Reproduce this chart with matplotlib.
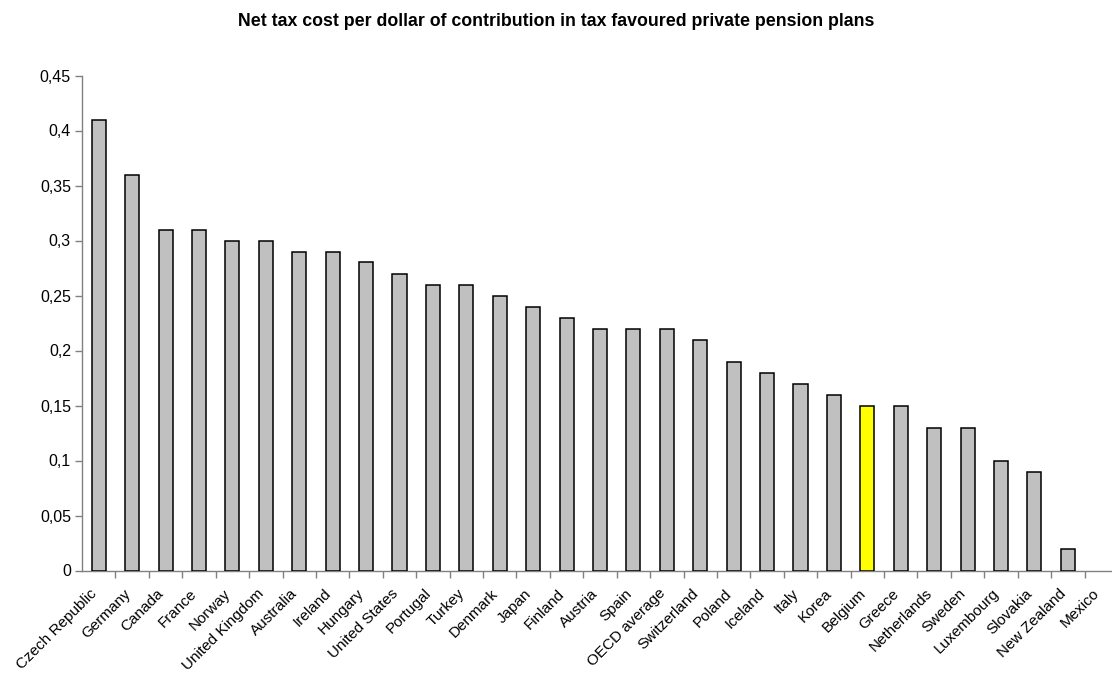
import numpy as np
import matplotlib.pyplot as plt
import matplotlib.transforms as mtransforms
from matplotlib.ticker import FixedLocator, FuncFormatter

countries = ["Czech Republic", "Germany", "Canada", "France", "Norway", "United Kingdom",
             "Australia", "Ireland", "Hungary", "United States", "Portugal", "Turkey",
             "Denmark", "Japan", "Finland", "Austria", "Spain", "OECD average",
             "Switzerland", "Poland", "Iceland", "Italy", "Korea", "Belgium", "Greece",
             "Netherlands", "Sweden", "Luxembourg", "Slovakia", "New Zealand", "Mexico"]
net_cost = [0.41, 0.36, 0.31, 0.31, 0.30, 0.30, 0.29, 0.29, 0.28, 0.27, 0.26, 0.26,
            0.25, 0.24, 0.23, 0.22, 0.22, 0.22, 0.21, 0.19, 0.18, 0.17, 0.16, 0.15,
            0.15, 0.13, 0.13, 0.10, 0.09, 0.02, 0.0]
highlight = "Belgium"
y_ticks = [0, 0.05, 0.1, 0.15, 0.2, 0.25, 0.3, 0.35, 0.4, 0.45]

plt.rcParams['font.family'] = ['Liberation Sans', 'DejaVu Sans']

fig = plt.figure(figsize=(11.12, 6.73), dpi=100)
# axes placed in pixels of the reference
ax = fig.add_axes([82 / 1112, 1 - 570.5 / 673, 1036 / 1112, 495 / 673])

x = np.arange(len(countries))
colors = ["#FFFF00" if c == highlight else "#C0C0C0" for c in countries]
# zero-height bars are not outlined in the original
widths = [1.1 if v > 0 else 0 for v in net_cost]
ax.bar(x, net_cost, width=0.42, color=colors, edgecolor="black", linewidth=widths, zorder=3)

ax.set_xlim(-0.5, len(countries) - 0.5)
ax.set_ylim(0, 0.45)
ax.set_yticks(y_ticks)
ax.yaxis.set_major_formatter(FuncFormatter(lambda v, p: ("%g" % v).replace(".", ",")))

ax.set_xticks(x)
ax.set_xticklabels(countries, rotation=45, ha="right", va="center", rotation_mode="anchor")
ax.xaxis.set_minor_locator(FixedLocator(x[:-1] + 0.5))
ax.tick_params(axis="x", which="major", length=0, pad=15, labelsize=11)
ax.tick_params(axis="x", which="minor", length=5, width=1, color="#808080")
ax.tick_params(axis="y", length=5, width=1, color="#808080", labelsize=11.5, pad=3)

# nudge the slanted labels a little to the left
shift = mtransforms.ScaledTranslation(-4 / 100, 0, fig.dpi_scale_trans)
for lab in ax.get_xticklabels():
    lab.set_transform(lab.get_transform() + shift)

for side in ["top", "right"]:
    ax.spines[side].set_visible(False)
for side in ["left", "bottom"]:
    ax.spines[side].set_color("#808080")
    ax.spines[side].set_linewidth(1)

fig.text(0.5, 1 - 21 / 673, "Net tax cost per dollar of contribution in tax favoured private pension plans",
         ha="center", va="center", fontsize=12.8, fontweight="bold")

fig.savefig("out.png", dpi=100)
